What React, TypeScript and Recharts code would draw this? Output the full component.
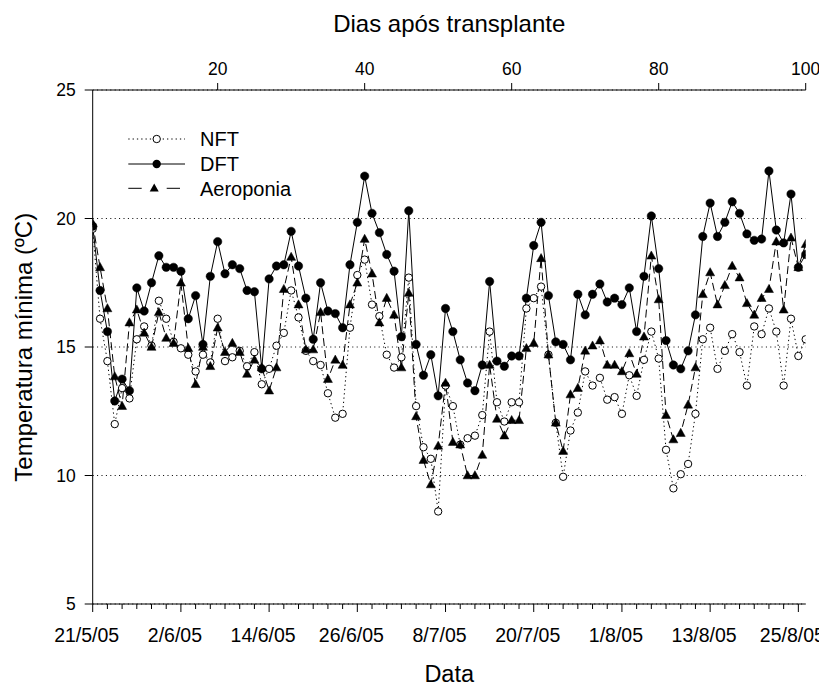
import React from 'react';
import { LineChart, Line, XAxis, YAxis, CartesianGrid, Legend } from 'recharts';

const FONT = '"Liberation Sans", Arial, Helvetica, sans-serif';

// Temperatura mínima (ºC), one value per day starting 21/5/05
const nft = [
  19.6, 16.1, 14.45, 12.0, 13.4, 13.0, 15.3, 15.8, 15.05, 16.8,
  16.1, 15.2, 14.95, 14.7, 14.05, 14.7, 14.4, 16.1, 14.45, 14.6,
  14.85, 14.25, 14.8, 13.55, 14.15, 15.05, 15.55, 17.2, 16.15, 14.85,
  14.45, 14.3, 13.2, 12.25, 12.4, 15.75, 17.8, 18.4, 16.65, 16.2,
  14.7, 14.2, 14.6, 17.7, 12.7, 11.1, 10.65, 8.6, 13.5, 12.7,
  11.2, 11.45, 11.55, 12.35, 15.6, 12.85, 12.1, 12.85, 12.85, 16.5,
  16.9, 17.35, 14.7, 12.05, 9.95, 11.75, 12.45, 14.05, 13.5, 13.8,
  12.95, 13.05, 12.4, 13.9, 13.1, 14.5, 15.6, 14.55, 11.0, 9.5,
  10.05, 10.45, 12.4, 15.3, 15.75, 14.15, 14.85, 15.5, 14.8, 13.5,
  15.8, 15.5, 16.5, 15.6, 13.5, 16.1, 14.65, 15.3,
];
const dft = [
  19.7, 17.2, 15.6, 12.9, 13.75, 13.3, 17.3, 16.4, 17.5, 18.55,
  18.1, 18.1, 17.95, 16.1, 17.0, 15.1, 17.75, 19.1, 17.85, 18.2,
  18.05, 17.2, 17.15, 14.15, 17.65, 18.15, 18.2, 19.5, 18.15, 16.9,
  15.3, 17.5, 16.4, 16.3, 15.75, 18.2, 19.85, 21.65, 20.2, 19.45,
  18.6, 17.95, 15.4, 20.3, 15.1, 13.9, 14.7, 13.1, 16.5, 15.6,
  14.5, 13.6, 13.3, 14.3, 17.55, 14.45, 14.25, 14.65, 14.65, 16.9,
  18.95, 19.85, 17.0, 15.2, 15.1, 14.5, 17.05, 16.25, 17.05, 17.45,
  16.75, 16.9, 16.65, 17.3, 15.6, 17.75, 20.1, 18.05, 15.25, 14.3,
  14.15, 14.85, 16.25, 19.3, 20.6, 19.3, 19.85, 20.65, 20.2, 19.4,
  19.15, 19.2, 21.85, 19.55, 19.05, 20.95, 18.1, 18.6,
];
const aero = [
  19.8, 18.1, 16.5, 13.85, 12.7, 15.95, 16.45, 15.55, 15.0, 16.35,
  15.35, 15.15, 17.5, 14.95, 13.55, 15.0, 14.25, 15.75, 14.8, 15.15,
  14.8, 13.95, 14.5, 14.2, 13.3, 14.2, 17.25, 18.5, 16.65, 14.9,
  14.9, 16.35, 13.75, 14.5, 14.3, 16.65, 17.5, 19.2, 17.85, 15.95,
  16.9, 16.25, 14.2, 17.1, 12.3, 10.6, 9.65, 11.15, 13.6, 11.3,
  11.2, 10.0, 10.0, 10.8, 14.3, 12.2, 11.55, 12.15, 12.15, 14.95,
  15.15, 18.45, 14.7, 12.05, 10.95, 13.15, 13.4, 14.85, 15.05, 15.25,
  14.3, 14.3, 14.05, 14.75, 13.95, 15.4, 18.55, 16.85, 12.35, 11.4,
  11.65, 12.75, 14.2, 17.05, 17.9, 16.65, 17.4, 18.15, 17.7, 16.7,
  16.25, 16.9, 17.25, 19.1, 16.45, 19.25, 18.1, 19.0,
];

const seriesNames = ['NFT', 'DFT', 'Aeroponia'];
const transplantOffset = 3; // days after transplant on 21/5/05
const dateTickIdx = [0, 12, 24, 36, 48, 60, 72, 84, 96];
const dateTickLabels = ['21/5/05', '2/6/05', '14/6/05', '26/6/05', '8/7/05', '20/7/05', '1/8/05', '13/8/05', '25/8/05'];
const minorTicks = [
  0, 2, 4, 6, 8, 10, 12, 14, 16, 18, 20, 22, 24, 26, 28, 30, 32, 34, 36, 38, 40, 42, 44, 46, 48,
  50, 52, 54, 56, 58, 60, 62, 64, 66, 68, 70, 72, 74, 76, 78, 80, 82, 84, 86, 88, 90, 92, 94, 96,
];
const dayTicks = [20, 40, 60, 80, 100];
const yTicks = [5, 10, 15, 20, 25];

const data = nft.map((v, i) => ({
  day: i,
  dap: i + transplantOffset,
  nft: v,
  dft: dft[i],
  aero: aero[i],
}));

const DateTick = (props: any) => {
  const { x, y, payload } = props;
  const v = payload.value;
  const idx = dateTickIdx.indexOf(v);
  const major = idx >= 0;
  return (
    <g>
      <line x1={x} x2={x} y1={y} y2={y + (major ? 8 : 5)} stroke="#000" strokeWidth={1} />
      {major && (
        <text x={x - 6} y={y + 38} textAnchor="middle" fontSize={19.5} fontFamily={FONT} fill="#000">
          {dateTickLabels[idx]}
        </text>
      )}
    </g>
  );
};

const DayTick = (props: any) => {
  const { x, y, payload } = props;
  return (
    <g>
      <line x1={x} x2={x} y1={y - 7} y2={y} stroke="#000" strokeWidth={1} />
      <text x={x} y={y - 15} textAnchor="middle" fontSize={17.5} fontFamily={FONT} fill="#000">
        {payload.value}
      </text>
    </g>
  );
};

const YTick = (props: any) => {
  const { x, y, payload } = props;
  return (
    <g>
      <line x1={x - 8} x2={x} y1={y} y2={y} stroke="#000" strokeWidth={1} />
      <text x={x - 17} y={y} dy="0.36em" textAnchor="end" fontSize={17.5} fontFamily={FONT} fill="#000">
        {payload.value}
      </text>
    </g>
  );
};

const triPath = (cx: number, cy: number) =>
  `M${cx},${cy - 4.8}L${cx + 4.5},${cy + 3.3}L${cx - 4.5},${cy + 3.3}Z`;

const openDot = (p: any) => (
  <circle key={`n-${p.index}`} cx={p.cx} cy={p.cy} r={3.7} fill="#fff" stroke="#000" strokeWidth={1} />
);
const fillDot = (p: any) => (
  <circle key={`d-${p.index}`} cx={p.cx} cy={p.cy} r={4.2} fill="#000" stroke="#000" strokeWidth={0.5} />
);
const triDot = (p: any) => (
  <path key={`a-${p.index}`} d={triPath(p.cx, p.cy)} fill="#000" stroke="#000" strokeWidth={0.5} />
);

const LegendBox = () => {
  const rows = [16, 41, 65.3];
  return (
    <svg width={230} height={90} style={{ display: 'block', overflow: 'visible' }}>
      <line x1={10.3} x2={67} y1={rows[0]} y2={rows[0]} stroke="#000" strokeDasharray="1.3 3" />
      <circle cx={38.7} cy={rows[0]} r={3.7} fill="#fff" stroke="#000" />
      <line x1={10.3} x2={67} y1={rows[1]} y2={rows[1]} stroke="#000" />
      <circle cx={38.7} cy={rows[1]} r={4.2} fill="#000" />
      <line x1={10.3} x2={23.7} y1={rows[2]} y2={rows[2]} stroke="#000" />
      <line x1={48.7} x2={62} y1={rows[2]} y2={rows[2]} stroke="#000" />
      <path d={triPath(36.2, rows[2])} fill="#000" />
      {seriesNames.map((n, k) => (
        <text key={n} x={82} y={rows[k]} dy="0.36em" fontSize={20} fontFamily={FONT} fill="#000">
          {n}
        </text>
      ))}
    </svg>
  );
};

export default function App() {
  return (
    <div style={{ fontFamily: FONT, width: 819, height: 680 }}>
      <LineChart
        width={819}
        height={680}
        data={data}
        margin={{ top: 32, right: 21.3, bottom: 24, left: 24.7 }}
      >
        <CartesianGrid
          xAxisId="date"
          yAxisId="left"
          vertical={false}
          stroke="#000"
          strokeWidth={1}
          strokeDasharray="1 3.4"
        />
        <XAxis
          xAxisId="date"
          dataKey="day"
          type="number"
          domain={[0, 97]}
          ticks={minorTicks}
          interval={0}
          height={60}
          tickSize={0}
          tickMargin={0}
          tickLine={false}
          axisLine={{ stroke: '#000', strokeWidth: 1 }}
          tick={<DateTick />}
          allowDataOverflow
          label={() => (
            <text x={441.2} y={674} textAnchor="middle" fontSize={23.5} fontFamily={FONT} fill="#000">
              Data
            </text>
          )}
        />
        <XAxis
          xAxisId="dap"
          dataKey="dap"
          type="number"
          orientation="top"
          domain={[3, 100]}
          ticks={dayTicks}
          interval={0}
          height={50}
          tickSize={0}
          tickMargin={0}
          tickLine={false}
          axisLine={{ stroke: '#000', strokeWidth: 1 }}
          tick={<DayTick />}
          allowDataOverflow
          label={() => (
            <text x={441.2} y={23.5} textAnchor="middle" fontSize={24} fontFamily={FONT} fill="#000">
              Dias após transplante
            </text>
          )}
        />
        <YAxis
          yAxisId="left"
          type="number"
          domain={[5, 25]}
          ticks={yTicks}
          interval={0}
          width={60}
          tickSize={0}
          tickMargin={0}
          tickLine={false}
          axisLine={{ stroke: '#000', strokeWidth: 1 }}
          tick={<YTick />}
          allowDataOverflow
          label={() => (
            <text
              transform="rotate(-90)"
              x={-339.3}
              y={24}
              textAnchor="middle"
              fontSize={24}
              fontFamily={FONT}
              fill="#000"
            >
              Temperatura mínima (ºC)
            </text>
          )}
        />
        <YAxis
          yAxisId="right"
          orientation="right"
          type="number"
          domain={[5, 25]}
          ticks={yTicks}
          width={0}
          tick={false}
          tickLine={false}
          axisLine={{ stroke: '#000', strokeWidth: 1 }}
        />
        <Legend
          layout="horizontal"
          verticalAlign="middle"
          align="center"
          content={() => <LegendBox />}
          wrapperStyle={{ left: 110, top: 115, width: 230, height: 90 }}
        />
        <Line
          xAxisId="date"
          yAxisId="left"
          dataKey="nft"
          name="NFT"
          stroke="#000"
          strokeWidth={1}
          strokeDasharray="1.3 3"
          dot={openDot}
          activeDot={false}
          isAnimationActive={false}
        />
        <Line
          xAxisId="date"
          yAxisId="left"
          dataKey="dft"
          name="DFT"
          stroke="#000"
          strokeWidth={1}
          dot={fillDot}
          activeDot={false}
          isAnimationActive={false}
        />
        <Line
          xAxisId="date"
          yAxisId="left"
          dataKey="aero"
          name="Aeroponia"
          stroke="#000"
          strokeWidth={1}
          strokeDasharray="8 4"
          dot={triDot}
          activeDot={false}
          isAnimationActive={false}
        />
      </LineChart>
    </div>
  );
}
